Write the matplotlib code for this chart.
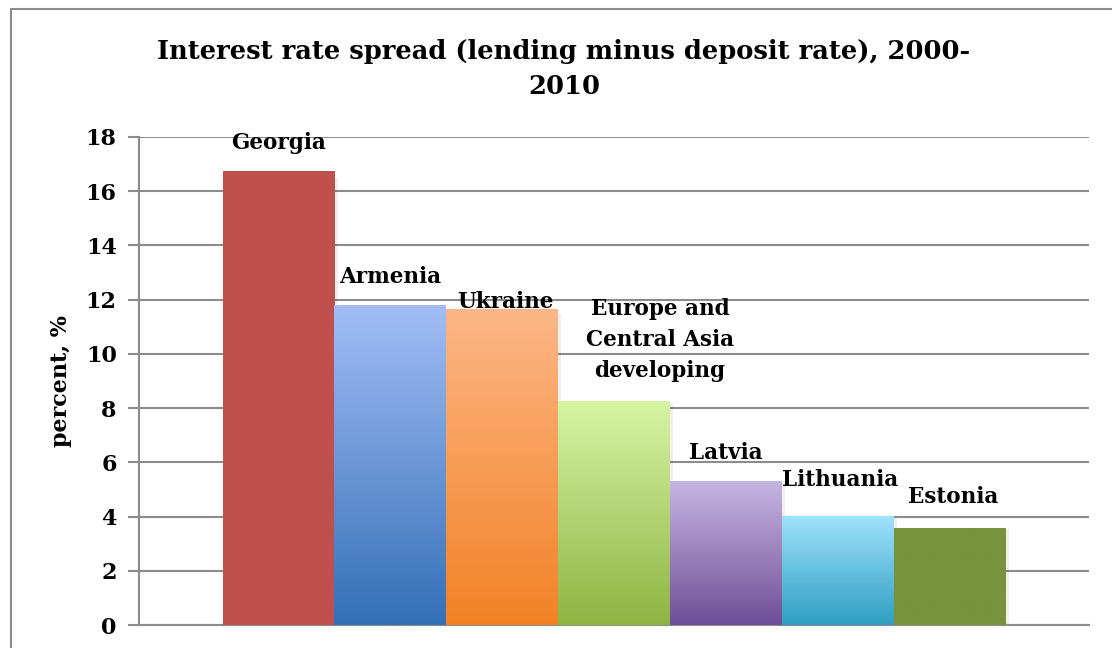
import matplotlib.pyplot as plt
import numpy as np
from matplotlib.colors import LinearSegmentedColormap
from matplotlib.patches import Rectangle

countries = ["Georgia", "Armenia", "Ukraine", "Europe and\nCentral Asia\ndeveloping",
             "Latvia", "Lithuania", "Estonia"]
spread = [16.75, 11.8, 11.66, 8.26, 5.31, 4.02, 3.58]
# (top colour, bottom colour) for each bar
fills = [("#C0504D", "#C0504D"), ("#A2BDF6", "#3470B7"), ("#FDB786", "#F28226"),
         ("#D6F5A4", "#8EB443"), ("#C6B5E1", "#6F4E97"), ("#9FE2FC", "#2E9EC2"),
         ("#77933C", "#77933C")]
# label offsets from the bar top, in points (dx, dy)
label_off = [(0, 20), (0, 20), (2, 5), (33, 44), (0, 20), (2, 26), (3, 22)]
yticks = [0, 2, 4, 6, 8, 10, 12, 14, 16, 18]

plt.rcParams['font.family'] = ['DejaVu Serif']
plt.rcParams['font.weight'] = 'bold'

fig = plt.figure(figsize=(11.12, 6.48), dpi=100)
fig.patches.append(Rectangle((11 / 1112, -0.1), 1.2, 1.1 - 9 / 648,
                             transform=fig.transFigure, fill=False,
                             edgecolor="#8c8c8c", linewidth=1.5))
ax = fig.add_axes([139 / 1112, 23 / 648, 950 / 1112, 488 / 648])

group = 0.824
w = group / len(countries)
xs = [(i - (len(countries) - 1) / 2) * w for i in range(len(countries))]

bars = ax.bar(xs, spread, width=w, color="none", edgecolor="none", zorder=3)
for b, (top, bot), v, x, name, (dx, dy) in zip(bars, fills, spread, xs, countries, label_off):
    cmap = LinearSegmentedColormap.from_list("g", [bot, top])
    grad = np.linspace(0, 1, 256).reshape(-1, 1)
    im = ax.imshow(grad, cmap=cmap, origin="lower", aspect="auto",
                   extent=[x - w / 2, x + w / 2, 0, v], zorder=3)
    im.set_clip_path(b)
    # faint drop shadow on the right side
    ax.add_patch(Rectangle((x + w / 2, 0), w * 0.03, v * 0.985, color="#000000",
                           alpha=0.06, zorder=2, linewidth=0))
    ax.annotate(name, (x, v), xytext=(dx, dy), textcoords="offset points",
                ha="center", va="center", fontsize=15.5, fontweight="bold",
                linespacing=1.55, zorder=5)

ax.set_xlim(-0.5, 0.5)
ax.set_ylim(0, 18)
ax.set_yticks(yticks)
ax.set_xticks([])
ax.grid(axis="y", color="#8c8c8c", linewidth=1.5, zorder=1)
ax.tick_params(axis="y", length=8, width=1.5, color="#8c8c8c", labelsize=16, pad=8)
for s in ["top", "right"]:
    ax.spines[s].set_visible(False)
ax.spines["left"].set_color("#8c8c8c")
ax.spines["left"].set_linewidth(1.5)
ax.spines["bottom"].set_color("#8c8c8c")
ax.spines["bottom"].set_linewidth(1.5)
ax.set_ylabel("percent, %", fontsize=16, fontweight="bold", labelpad=10)

fig.text(564 / 1112, 1 - 69 / 648, "Interest rate spread (lending minus deposit rate), 2000-\n2010",
         ha="center", va="center", fontsize=18.5, fontweight="bold", linespacing=1.45)

fig.savefig("out.png", dpi=100)
